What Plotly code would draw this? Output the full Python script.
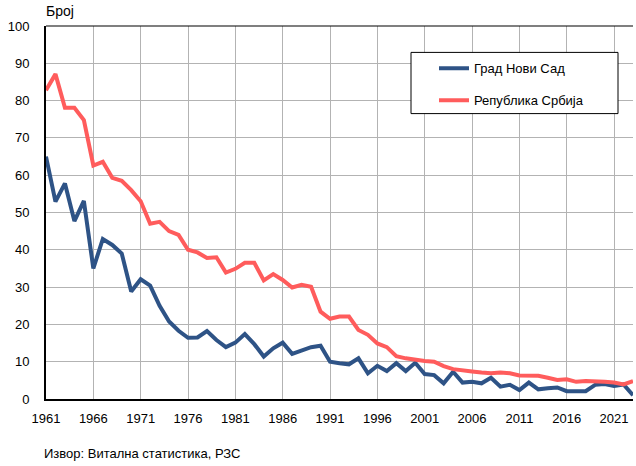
import plotly.graph_objects as go

years = list(range(1961, 2024))

novi_sad = [65, 52.9, 57.8, 47.7, 53.1, 35, 42.9, 41.3, 39, 28.8,
            32.1, 30.4, 25, 20.8, 18.3, 16.4, 16.5, 18.2, 15.8, 13.9,
            15.1, 17.4, 14.7, 11.4, 13.6, 15.1, 12.1, 13.1, 13.9, 14.3,
            10, 9.6, 9.3, 10.9, 6.9, 8.9, 7.5, 9.6, 7.5, 9.7,
            6.7, 6.4, 4.2, 7.3, 4.4, 4.6, 4.2, 5.7, 3.3, 3.8,
            2.4, 4.4, 2.6, 2.9, 3.1, 2.1, 2.0, 2.1, 3.8, 4.0,
            3.5, 3.9, 1.0]

srbija = [82.8, 87.1, 78.1, 78.1, 74.8, 62.6, 63.6, 59.3, 58.5, 56,
          53, 47, 47.5, 45, 44, 40, 39.3, 37.8, 38, 33.9,
          34.9, 36.5, 36.5, 31.8, 33.5, 31.9, 29.9, 30.6, 30.1, 23.4,
          21.5, 22.1, 22.1, 18.5, 17.2, 14.9, 13.9, 11.5, 10.9, 10.5,
          10.2, 10, 8.8, 8, 7.8, 7.4, 7.1, 6.9, 7.1, 6.9,
          6.3, 6.3, 6.2, 5.7, 5.1, 5.3, 4.6, 4.8, 4.8, 4.6,
          4.4, 3.9, 4.8]

name_ns = "Град Нови Сад"
name_rs = "Република Србија"
y_title = "Број"
source = "Извор: Витална статистика, РЗС"

FONT = "Liberation Sans, Arial, sans-serif"

fig = go.Figure()
fig.add_trace(go.Scatter(x=years, y=novi_sad, mode="lines", name=name_ns,
                         line=dict(color="#2E5386", width=4), legend="legend"))
fig.add_trace(go.Scatter(x=years, y=srbija, mode="lines", name=name_rs,
                         line=dict(color="#FF5C5C", width=4), legend="legend2"))

L, R, T, B = 46, 3, 26, 67
W, H = 636, 466
pw = W - L - R
ph = H - T - B

def px(x):
    return (x - L) / pw

def py(y):
    return (H - B - y) / ph

legend_common = dict(bgcolor="rgba(0,0,0,0)", borderwidth=0,
                     font=dict(family=FONT, size=13, color="#000"),
                     xanchor="left", yanchor="middle")

fig.update_layout(
    width=W, height=H,
    margin=dict(l=L, r=R, t=T, b=B, pad=0),
    paper_bgcolor="white", plot_bgcolor="white",
    font=dict(family=FONT, size=13, color="#000"),
    showlegend=True,
    legend=dict(x=px(434), y=py(68.4), **legend_common),
    legend2=dict(x=px(434), y=py(100.2), **legend_common),
    xaxis=dict(range=[1961, 2023], tickmode="linear", tick0=1961, dtick=5,
               showgrid=True, gridcolor="#B3B3B3", gridwidth=1.3,
               showline=True, linecolor="#000", linewidth=2,
               zeroline=False, ticks="", ticklabelstandoff=6,
               tickfont=dict(family=FONT, size=13, color="#000")),
    yaxis=dict(range=[0, 100], tickmode="linear", tick0=0, dtick=10,
               showgrid=True, gridcolor="#B3B3B3", gridwidth=1.3,
               showline=True, linecolor="#000", linewidth=2,
               zeroline=False, ticks="", ticklabelstandoff=12,
               tickfont=dict(family=FONT, size=13, color="#000")),
    shapes=[
        dict(type="line", xref="paper", yref="paper", x0=0, x1=1, y0=1, y1=1,
             line=dict(color="#000", width=1.2), layer="above"),
        dict(type="rect", xref="paper", yref="paper",
             x0=px(411), x1=px(618), y0=py(113.6), y1=py(52.4),
             fillcolor="white", line=dict(color="#000", width=1), layer="above"),
    ],
    annotations=[
        dict(text=y_title, xref="paper", yref="paper", x=px(44), y=py(10.5),
             xanchor="left", yanchor="middle", showarrow=False,
             font=dict(family=FONT, size=14, color="#000")),
        dict(text=source, xref="paper", yref="paper", x=px(42), y=py(453),
             xanchor="left", yanchor="middle", showarrow=False,
             font=dict(family=FONT, size=13, color="#000")),
    ],
)

fig.write_html("out.html",
               config={"displayModeBar": False},
               post_script="document.body.style.margin='0';document.body.style.overflow='hidden';")
